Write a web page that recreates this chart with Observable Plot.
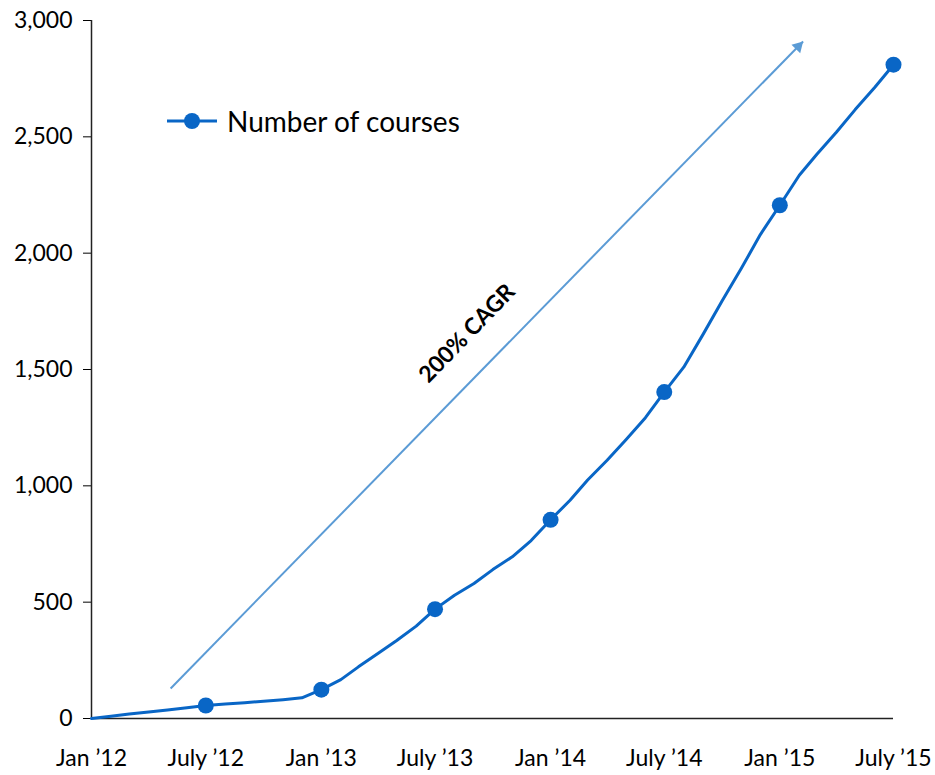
<!DOCTYPE html>
<html>
<head>
<meta charset="utf-8">
<script src="https://cdn.jsdelivr.net/npm/d3@7"></script>
<script src="https://cdn.jsdelivr.net/npm/@observablehq/plot@0.6"></script>
<style>
  html, body { margin: 0; padding: 0; background: #fff; }
  #wrap { position: relative; width: 935px; height: 775px; font-family: Lato, "Open Sans", sans-serif; }
  #legend { position: absolute; left: 167px; top: 104px; display: flex; align-items: center; gap: 10px; font-size: 28px; color: #000; }
</style>
</head>
<body>
<div id="wrap">
  <div id="chart"></div>
  <div id="legend">
    <svg width="50" height="20"><line x1="0" x2="50" y1="10" y2="10" stroke="#0966c6" stroke-width="3"/><circle cx="25" cy="10" r="8" fill="#0966c6"/></svg>
    <span>Number of courses</span>
  </div>
</div>
<script>
// Monthly course counts, Jan 2012 – Jul 2015
const months = [
  "2012-01","2012-02","2012-03","2012-04","2012-05","2012-06","2012-07","2012-08","2012-09","2012-10","2012-11","2012-12",
  "2013-01","2013-02","2013-03","2013-04","2013-05","2013-06","2013-07","2013-08","2013-09","2013-10","2013-11","2013-12",
  "2014-01","2014-02","2014-03","2014-04","2014-05","2014-06","2014-07","2014-08","2014-09","2014-10","2014-11","2014-12",
  "2015-01","2015-02","2015-03","2015-04","2015-05","2015-06","2015-07"
];
const courses = [
  0, 10, 19, 28, 37, 46, 56, 62, 68, 74, 81, 89,
  124, 167, 222, 279, 335, 397, 470, 530, 580, 640, 695, 765,
  854, 938, 1025, 1110, 1198, 1293, 1403, 1510, 1652, 1794, 1936, 2080,
  2206, 2335, 2425, 2520, 2617, 2712, 2810
];

// Half-yearly axis ticks
const tickMonths = ["2012-01","2012-07","2013-01","2013-07","2014-01","2014-07","2015-01","2015-07"];
const tickLabels = ["Jan ’12","July ’12","Jan ’13","July ’13","Jan ’14","July ’14","Jan ’15","July ’15"];
const yTicks = [0, 500, 1000, 1500, 2000, 2500, 3000];

// Growth-trend annotation
const trendLabel = "200% CAGR";
const trendStart = {date: "2012-05-06", value: 129};
const trendEnd = {date: "2015-02-07", value: 2910};
const trendLabelAt = {date: "2013-08-21", value: 1655};

const parse = d3.utcParse("%Y-%m");
const parseDay = d3.utcParse("%Y-%m-%d");
const data = months.map((m, i) => ({date: parse(m), value: courses[i]}));
// half-yearly markers (the series starts from zero without a marker)
const markers = data.filter((d, i) => i > 0 && d.date.getUTCMonth() % 6 === 0);
const tickDates = tickMonths.map(parse);
const labelOf = new Map(tickDates.map((d, i) => [+d, tickLabels[i]]));

const lineColor = "#0966c6";
const trendColor = "#5b9bd5";

const trend = [{
  x1: parseDay(trendStart.date), y1: trendStart.value,
  x2: parseDay(trendEnd.date), y2: trendEnd.value
}];

const chart = Plot.plot({
  width: 935,
  height: 775,
  marginLeft: 91,
  marginRight: 42,
  marginTop: 20,
  marginBottom: 57,
  style: {fontFamily: "Lato, 'Open Sans', sans-serif", fontSize: "23px", color: "#000", background: "#fff"},
  x: {type: "utc", domain: [parse("2012-01"), parse("2015-07")]},
  y: {domain: [0, 3000]},
  marks: [
    Plot.axisX({ticks: tickDates, tickFormat: d => labelOf.get(+d), tickSize: 0, tickPadding: 31, fontSize: 23, label: null}),
    Plot.axisY({ticks: yTicks, tickFormat: d3.format(","), tickSize: 8, tickPadding: 11, fontSize: 23, label: null}),
    Plot.ruleX([parse("2012-01")], {y1: 0, y2: 3000, stroke: "#222", strokeWidth: 1.5}),
    Plot.ruleY([0], {stroke: "#222", strokeWidth: 1.5}),
    Plot.link(trend, {x1: "x1", y1: "y1", x2: "x2", y2: "y2", stroke: trendColor, strokeWidth: 2}),
    Plot.dot(trend, {x: "x2", y: "y2", symbol: "triangle", r: 4.5, fill: trendColor, rotate: 44, dx: -4.8, dy: 5}),
    Plot.text([trendLabelAt], {x: d => parseDay(d.date), y: "value", text: () => trendLabel, rotate: -46, fontWeight: "bold", fontSize: 23, fill: "#000"}),
    Plot.line(data, {x: "date", y: "value", stroke: lineColor, strokeWidth: 3}),
    Plot.dot(markers, {x: "date", y: "value", r: 8, fill: lineColor})
  ]
});
document.getElementById("chart").appendChild(chart);
</script>
</body>
</html>
